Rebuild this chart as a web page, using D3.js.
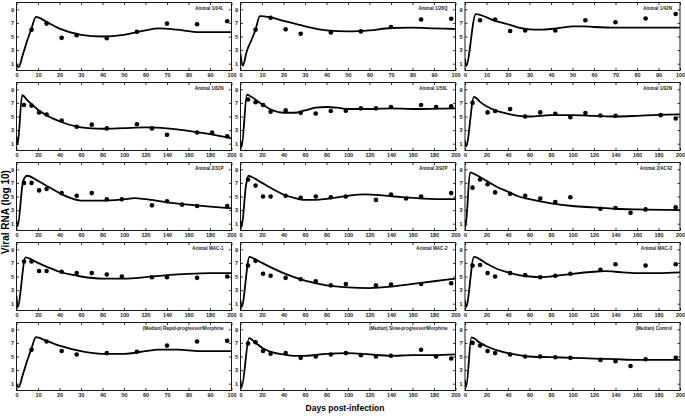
<!DOCTYPE html>
<html>
<head>
<meta charset="utf-8">
<script src="https://cdn.jsdelivr.net/npm/d3@7"></script>
<style>
  body { margin: 0; background: #fff; }
  svg { display: block; font-family: "Liberation Sans", Arial, sans-serif; }
  .tick text { font-size: 5.5px; font-weight: bold; fill: #222; }
  .tick line { stroke: #000; stroke-width: 0.8; }
</style>
</head>
<body>
<svg id="chart" width="685" height="416"></svg>
<script>
// panel titles, row by row
var titles = ["Animal 1/04L", "Animal 1/28Q", "Animal 1/42N",
  "Animal 1/82N", "Animal 1/56L", "Animal 1/02N",
  "Animal 2/31P", "Animal 2/92P", "Animal 2/AC42",
  "Animal MAC-1", "Animal MAC-2", "Animal MAC-3",
  "(Median) Rapid-progressor/Morphine", "(Median) Slow-progressor/Morphine", "(Median) Control"];

// last day on each x axis
var dayMax = [100, 100, 100, 200, 200, 200, 200, 200, 200, 200, 200, 200, 100, 200, 200];

var yTicks = [1, 3, 5, 7, 9];

// measured viral RNA (dots)
var obsDays = [
  [7, 14, 21, 28, 42, 56, 70, 84, 98],
  [7, 14, 21, 28, 42, 56, 70, 84, 98],
  [7, 14, 21, 28, 42, 56, 70, 84, 98],
  [7, 14, 21, 28, 42, 56, 70, 84, 112, 126, 140, 168, 182, 196],
  [7, 14, 21, 28, 42, 56, 70, 84, 98, 112, 126, 140, 168, 182, 196],
  [7, 21, 28, 42, 56, 70, 84, 98, 112, 126, 140, 182, 196],
  [7, 14, 21, 28, 42, 56, 70, 84, 98, 126, 140, 154, 168, 196],
  [7, 14, 21, 28, 42, 56, 70, 84, 98, 126, 140, 154, 168, 196],
  [7, 14, 21, 28, 42, 56, 70, 84, 98, 126, 140, 154, 168, 196],
  [7, 14, 21, 28, 42, 56, 70, 84, 98, 126, 140, 168, 196],
  [7, 14, 21, 28, 42, 56, 70, 84, 98, 126, 140, 168, 196],
  [7, 14, 21, 28, 42, 56, 70, 84, 98, 126, 140, 168, 196],
  [7, 14, 21, 28, 42, 56, 70, 84, 98],
  [7, 14, 21, 28, 42, 56, 70, 84, 98, 112, 126, 140, 168, 182, 196],
  [7, 14, 21, 28, 42, 56, 70, 84, 98, 126, 140, 154, 168, 196]
];
var obsValues = [
  [6.0, 6.9, 4.8, 5.2, 4.75, 5.7, 6.9, 6.8, 7.25],
  [6.0, 7.75, 6.05, 5.4, 5.6, 5.75, 6.4, 7.5, 7.6],
  [7.4, 7.5, 5.8, 5.9, 5.9, 7.4, 7.1, 7.65, 8.3],
  [6.7, 6.6, 5.6, 5.3, 4.4, 3.5, 3.8, 3.25, 3.85, 3.25, 2.3, 2.65, 2.65, 2.1],
  [7.5, 7.1, 6.7, 5.7, 5.9, 5.55, 5.45, 5.8, 5.85, 6.2, 6.2, 6.4, 6.7, 6.4, 6.5],
  [7.0, 5.6, 5.8, 6.1, 5.0, 5.6, 5.4, 4.9, 5.5, 5.15, 5.1, 5.2, 4.7],
  [7.0, 7.0, 5.9, 6.1, 5.5, 5.1, 5.5, 4.6, 4.6, 3.7, 4.3, 3.8, 3.6, 3.6],
  [7.5, 6.6, 5.0, 5.0, 5.1, 4.8, 5.0, 4.9, 5.0, 4.5, 5.3, 4.7, 5.0, 5.5],
  [6.3, 7.5, 6.8, 5.6, 5.4, 5.1, 4.7, 4.2, 4.9, 3.2, 3.3, 2.6, 3.1, 3.4],
  [7.2, 7.2, 5.8, 5.8, 5.7, 5.5, 5.5, 5.3, 5.0, 4.9, 4.9, 4.8, 5.0],
  [6.6, 7.3, 5.4, 5.1, 4.8, 4.6, 4.3, 3.7, 3.9, 3.7, 3.8, 3.9, 4.0],
  [6.6, 6.7, 5.5, 5.0, 5.5, 5.2, 4.9, 5.1, 5.4, 6.0, 6.8, 6.6, 6.8],
  [6.0, 7.2, 5.8, 5.3, 5.5, 5.7, 6.6, 7.2, 7.3],
  [6.9, 7.1, 5.8, 5.4, 5.5, 4.8, 5.0, 5.3, 5.5, 5.2, 5.0, 5.1, 6.0, 5.0, 4.7],
  [7.0, 6.6, 5.8, 5.5, 5.3, 5.0, 5.0, 4.9, 4.8, 4.5, 4.3, 3.6, 4.6, 4.8]
];

// model fit (solid line)
var fitDays = [
  [0, 1, 3, 5, 7, 9, 14, 20, 30, 40, 50, 60, 66, 75, 85, 100],
  [0, 1, 3, 5, 7, 9, 14, 20, 30, 40, 50, 60, 70, 80, 90, 100],
  [0, 0.5, 5, 14, 20, 25, 30, 35, 40, 45, 50, 55, 60, 70, 80, 100],
  [0, 1, 5.3, 10, 20, 30, 40, 50, 60, 70, 80, 100, 120, 140, 160, 180, 200],
  [0, 1, 6, 10, 20, 30, 40, 50, 60, 70, 80, 90, 100, 120, 140, 160, 200],
  [0, 1, 8.4, 14, 20, 30, 40, 50, 60, 80, 100, 120, 140, 160, 180, 200],
  [0, 1, 6.2, 9.9, 20, 30, 40, 50, 60, 80, 100, 110, 120, 140, 160, 180, 200],
  [0, 1, 5, 7.4, 10, 20, 30, 40, 50, 60, 70, 80, 100, 115, 130, 150, 170, 200],
  [0, 0.5, 4.7, 10, 20, 30, 40, 50, 60, 80, 100, 120, 140, 160, 200],
  [0, 1, 8.4, 14, 20, 30, 40, 50, 60, 80, 100, 120, 140, 160, 180, 200],
  [0, 1, 8.4, 14, 20, 40, 60, 80, 100, 120, 140, 160, 180, 200],
  [0, 1, 8.4, 20, 30, 40, 50, 60, 70, 80, 100, 120, 130, 140, 160, 180, 200],
  [0, 1, 3, 5, 7, 9, 14, 20, 30, 40, 50, 60, 66, 75, 85, 100],
  [0, 1, 8, 14, 20, 30, 40, 50, 60, 80, 100, 120, 140, 160, 180, 200],
  [0, 1, 6, 14, 20, 30, 40, 50, 60, 80, 100, 120, 140, 160, 180, 200]
];
var fitValues = [
  [0.9, 0.5, 2.4, 4.4, 6.2, 7.9, 7.15, 6.15, 5.25, 5.0, 5.25, 5.9, 6.2, 6.0, 5.65, 5.65],
  [2.4, 0.7, 2.9, 4.4, 6.0, 8.0, 7.8, 7.3, 6.5, 5.9, 5.75, 5.9, 6.25, 6.3, 6.2, 6.1],
  [1.7, 0.65, 8.3, 7.3, 6.8, 6.3, 6.05, 6.0, 6.1, 6.3, 6.5, 6.5, 6.4, 6.3, 6.3, 6.3],
  [2.1, 0.9, 8.15, 7.4, 6.0, 5.0, 4.3, 3.75, 3.4, 3.25, 3.2, 3.3, 3.4, 3.25, 2.9, 2.4, 1.8],
  [1.5, 0.5, 8.2, 7.9, 6.8, 5.9, 5.55, 5.55, 5.9, 6.3, 6.4, 6.3, 6.1, 6.1, 6.2, 6.1, 6.2],
  [1.5, 0.6, 7.9, 7.15, 6.5, 5.8, 5.4, 5.1, 5.0, 5.2, 5.2, 5.1, 5.0, 5.1, 5.25, 5.3],
  [1.5, 0.6, 7.3, 8.05, 7.3, 6.4, 5.5, 4.8, 4.4, 4.4, 4.6, 4.75, 4.6, 4.15, 3.8, 3.5, 3.25],
  [1.5, 0.5, 6.5, 8.05, 7.9, 7.0, 6.1, 5.3, 4.8, 4.5, 4.5, 4.65, 5.1, 5.3, 5.2, 4.9, 4.7, 4.6],
  [1.5, 0.6, 8.55, 8.2, 7.3, 6.4, 5.7, 5.0, 4.6, 4.0, 3.6, 3.4, 3.2, 3.1, 3.0],
  [2.2, 0.5, 7.8, 7.5, 7.0, 6.3, 5.7, 5.3, 5.0, 4.7, 4.7, 4.9, 5.2, 5.4, 5.5, 5.5],
  [1.5, 0.5, 7.9, 7.5, 7.0, 5.5, 4.4, 3.7, 3.4, 3.3, 3.5, 3.9, 4.3, 4.7],
  [1.5, 0.5, 7.9, 6.9, 6.1, 5.6, 5.2, 5.0, 4.9, 5.0, 5.4, 5.7, 5.8, 5.7, 5.5, 5.5, 5.6],
  [0.9, 0.5, 2.4, 4.4, 6.2, 7.85, 7.3, 6.6, 5.8, 5.4, 5.4, 5.8, 6.0, 6.0, 5.8, 5.8],
  [1.5, 0.5, 7.7, 7.0, 6.3, 5.6, 5.3, 5.1, 5.1, 5.4, 5.5, 5.3, 5.1, 5.2, 5.2, 5.3],
  [1.5, 0.5, 7.8, 7.0, 6.5, 5.9, 5.5, 5.2, 5.0, 4.9, 4.8, 4.7, 4.6, 4.5, 4.5, 4.5]
];

var svg = d3.select("#chart");

// grid of small panels
var colLeft = [16.5, 240.5, 465],
  rowTop = [2.5, 82.5, 162.5, 242.5, 322.5],
  pw = 215,
  ph = 68;

titles.forEach(function(title, i) {
  var col = i % 3, row = Math.floor(i / 3);
  var g = svg.append("g")
    .attr("transform", "translate(" + colLeft[col] + "," + rowTop[row] + ")");

  var x = d3.scaleLinear().domain([0, dayMax[i]]).range([0, pw]);
  var y = d3.scaleLinear().domain([0, 10]).range([ph, 0]);
  var xTicks = d3.range(0, dayMax[i] + 1, dayMax[i] / 10);

  // inward ticks on all four sides
  g.append("g").attr("transform", "translate(0," + ph + ")")
    .call(d3.axisBottom(x).tickValues(xTicks).tickSize(-2.5).tickPadding(2.5))
    .call(function(a) { a.select(".domain").remove(); });
  g.append("g")
    .call(d3.axisTop(x).tickValues(xTicks).tickSize(-2.5).tickFormat(""))
    .call(function(a) { a.select(".domain").remove(); });
  g.append("g")
    .call(d3.axisLeft(y).tickValues(yTicks).tickSize(-2.5).tickPadding(2.5))
    .call(function(a) { a.select(".domain").remove(); });
  g.append("g").attr("transform", "translate(" + pw + ",0)")
    .call(d3.axisRight(y).tickValues(yTicks).tickSize(-2.5).tickFormat(""))
    .call(function(a) { a.select(".domain").remove(); });

  g.append("rect")
    .attr("width", pw).attr("height", ph)
    .attr("fill", "none").attr("stroke", "#000").attr("stroke-width", 0.9);

  g.append("text")
    .attr("x", pw - 8).attr("y", 7)
    .attr("text-anchor", "end")
    .attr("font-size", 4.6).attr("font-weight", "bold").attr("fill", "#222")
    .text(title);

  var clipId = "clip" + i;
  g.append("clipPath").attr("id", clipId)
    .append("rect").attr("width", pw).attr("height", ph);

  var fit = fitDays[i].map(function(d, k) { return [d, fitValues[i][k]]; });
  var line = d3.line()
    .x(function(d) { return x(d[0]); })
    .y(function(d) { return y(d[1]); })
    .curve(d3.curveMonotoneX);

  g.append("path")
    .datum(fit)
    .attr("clip-path", "url(#" + clipId + ")")
    .attr("d", line)
    .attr("fill", "none").attr("stroke", "#000").attr("stroke-width", 1.8);

  g.selectAll(".dot")
    .data(obsDays[i].map(function(d, k) { return [d, obsValues[i][k]]; }))
    .enter().append("circle")
    .attr("class", "dot")
    .attr("cx", function(d) { return x(d[0]); })
    .attr("cy", function(d) { return y(d[1]); })
    .attr("r", 2.3)
    .attr("fill", "#000");
});

// shared axis titles
svg.append("text")
  .attr("x", 345).attr("y", 411)
  .attr("text-anchor", "middle")
  .attr("font-size", 8.5).attr("font-weight", "bold")
  .text("Days post-infection");

svg.append("text")
  .attr("transform", "translate(9,212) rotate(-90)")
  .attr("text-anchor", "middle")
  .attr("font-size", 10).attr("font-weight", "bold")
  .text("Viral RNA (log 10)");
</script>
</body>
</html>
